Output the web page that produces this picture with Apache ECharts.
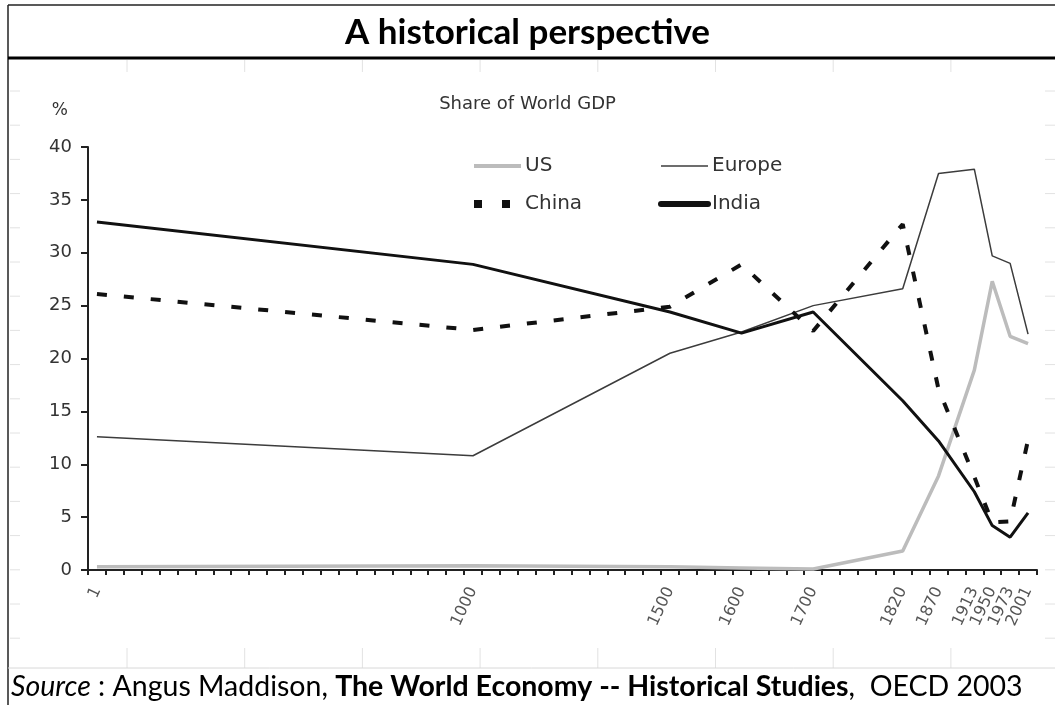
<!DOCTYPE html>
<html>
<head>
<meta charset="utf-8">
<title>A historical perspective</title>
<script src="https://cdn.jsdelivr.net/npm/echarts@6/dist/echarts.min.js"></script>
<style>
  html, body { margin: 0; padding: 0; background: #fff; }
  #chart { width: 1055px; height: 705px; }
</style>
</head>
<body>
<div id="chart"></div>
<script>
// x axis: the years shown, and which of the 53 evenly spaced category slots each one sits in
const years = ['1', '1000', '1500', '1600', '1700', '1820', '1870', '1913', '1950', '1973', '2001']
const yearSlots = [0, 21, 32, 36, 40, 45, 47, 49, 50, 51, 52]
const slotCount = 53

// share of world GDP, %
const usShare = [0.3, 0.4, 0.3, 0.2, 0.1, 1.8, 8.9, 18.9, 27.3, 22.1, 21.4]
const europeShare = [12.6, 10.8, 20.5, 22.5, 25.0, 26.6, 37.5, 37.9, 29.7, 29.0, 22.3]
const chinaShare = [26.1, 22.7, 24.9, 28.9, 22.6, 32.7, 17.1, 8.8, 4.5, 4.6, 12.3]
const indiaShare = [32.9, 28.9, 24.4, 22.4, 24.4, 16.0, 12.2, 7.4, 4.2, 3.1, 5.4]

// y axis ticks
const yMin = 0
const yMax = 40
const yStep = 5

const chartDom = document.getElementById('chart')
const chart = echarts.init(chartDom)

// one category per slot, only the slots holding a year get a label
const categories = Array.from({ length: slotCount }, (_, i) => {
  const k = yearSlots.indexOf(i)
  return k >= 0 ? years[k] : ''
})
const toPoints = (values) => values.map((v, i) => [yearSlots[i], v])

const chartFont = 'DejaVu Sans, Arial, sans-serif'
const headFont = 'Lato, Open Sans, sans-serif'

// faint spreadsheet grid showing around the pasted chart
const sheetLines = []
for (let k = 0; k < 8; k++) {
  const x = 127 + k * 117.7
  sheetLines.push({ type: 'line', shape: { x1: x, y1: 60, x2: x, y2: 72 } })
  sheetLines.push({ type: 'line', shape: { x1: x, y1: 648, x2: x, y2: 668 } })
}
for (let k = 0; k < 17; k++) {
  const y = 91 + k * 34.2
  sheetLines.push({ type: 'line', shape: { x1: 10, y1: y, x2: 20, y2: y } })
  sheetLines.push({ type: 'line', shape: { x1: 1045, y1: y, x2: 1055, y2: y } })
}
sheetLines.forEach((l) => { l.style = { stroke: '#e2e2e2', lineWidth: 1 }; l.silent = true })

const legendBase = {
  orient: 'vertical',
  top: 151,
  itemGap: 18,
  itemWidth: 47,
  itemHeight: 14,
  selectedMode: false,
  itemStyle: { opacity: 0, borderWidth: 0 },
  textStyle: { fontFamily: chartFont, fontSize: 20, color: '#333', padding: [0, 0, 0, -1] }
}

const option = {
  backgroundColor: '#fff',
  animation: false,
  title: [
    {
      text: 'A historical perspective',
      left: 'center',
      top: 10,
      padding: [5, 0, 5, 26],
      textStyle: { fontFamily: headFont, fontSize: 35, fontWeight: 'bold', color: '#000' }
    },
    {
      text: 'Share of World GDP',
      left: 'center',
      top: 90,
      padding: [5, 9, 5, 0],
      textStyle: { fontFamily: chartFont, fontSize: 18, fontWeight: 'normal', color: '#333' }
    },
    {
      text: '{i|Source} : Angus Maddison, {b|The World Economy -- Historical Studies},  OECD 2003',
      left: 6,
      top: 667,
      textStyle: {
        fontFamily: headFont,
        fontSize: 28.5,
        fontWeight: 'normal',
        color: '#000',
        rich: {
          i: { fontFamily: headFont, fontSize: 28.5, fontStyle: 'italic', color: '#000' },
          b: { fontFamily: headFont, fontSize: 28.5, fontWeight: 'bold', color: '#000' }
        }
      }
    }
  ],
  legend: [
    Object.assign({}, legendBase, {
      left: 465,
      data: [
        { name: 'US', lineStyle: { width: 4 } },
        { name: 'China', lineStyle: { width: 8, type: [8, 20], cap: 'butt' } }
      ]
    }),
    Object.assign({}, legendBase, {
      left: 653,
      data: [
        { name: 'Europe', lineStyle: { width: 1.5 } },
        { name: 'India', lineStyle: { width: 6, cap: 'round' } }
      ]
    })
  ],
  grid: {
    left: 88,
    top: 147,
    width: 949,
    height: 423,
    containLabel: false
  },
  xAxis: {
    type: 'category',
    data: categories,
    boundaryGap: true,
    axisLine: { lineStyle: { color: '#222', width: 2 } },
    axisTick: { show: true, interval: 0, length: 5, lineStyle: { color: '#222', width: 2 } },
    axisLabel: {
      interval: 0,
      rotate: 65,
      margin: 18,
      fontFamily: chartFont,
      fontSize: 16,
      color: '#555'
    },
    splitLine: { show: false }
  },
  yAxis: {
    type: 'value',
    min: yMin,
    max: yMax,
    interval: yStep,
    name: '%',
    nameLocation: 'end',
    nameGap: 28,
    nameTextStyle: { fontFamily: chartFont, fontSize: 17, color: '#333', align: 'right', padding: [0, 20, 0, 0] },
    axisLine: { show: true, lineStyle: { color: '#222', width: 2 } },
    axisTick: { show: true, length: 7, lineStyle: { color: '#222', width: 2 } },
    axisLabel: { fontFamily: chartFont, fontSize: 18, color: '#333', margin: 16 },
    splitLine: { show: false }
  },
  series: [
    {
      name: 'US',
      type: 'line',
      data: toPoints(usShare),
      symbol: 'none',
      color: '#bcbcbc',
      lineStyle: { color: '#bcbcbc', width: 3.5 }
    },
    {
      name: 'Europe',
      type: 'line',
      data: toPoints(europeShare),
      symbol: 'none',
      color: '#3c3c3c',
      lineStyle: { color: '#3c3c3c', width: 1.5 }
    },
    {
      name: 'China',
      type: 'line',
      data: toPoints(chinaShare),
      symbol: 'none',
      color: '#111',
      lineStyle: { color: '#111', width: 4, type: [10, 17], cap: 'butt' }
    },
    {
      name: 'India',
      type: 'line',
      data: toPoints(indiaShare),
      symbol: 'none',
      color: '#111',
      lineStyle: { color: '#111', width: 3 }
    }
  ],
  graphic: [
    ...sheetLines,
    { type: 'line', silent: true, shape: { x1: 8, y1: 5, x2: 1055, y2: 5 }, style: { stroke: '#222', lineWidth: 1.5 } },
    { type: 'line', silent: true, shape: { x1: 8, y1: 5, x2: 8, y2: 705 }, style: { stroke: '#222', lineWidth: 1.5 } },
    { type: 'line', silent: true, shape: { x1: 8, y1: 58, x2: 1055, y2: 58 }, style: { stroke: '#000', lineWidth: 3 } },
    { type: 'line', silent: true, shape: { x1: 8, y1: 668, x2: 1055, y2: 668 }, style: { stroke: '#d8d8d8', lineWidth: 1 } }
  ]
}

chart.setOption(option)
</script>
</body>
</html>
